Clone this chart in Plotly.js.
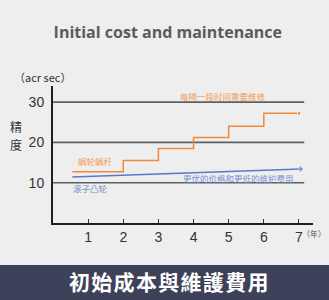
<!DOCTYPE html>
<html><head><meta charset="utf-8">
<script src="https://cdn.plot.ly/plotly-3.0.1.min.js"></script>
<style>html,body{margin:0;padding:0;background:#eeeeee;}#c{width:329px;height:300px;}</style>
</head><body><div id="c"></div>
<script>
// Data
const wormYears = [0.55, 2, 3, 4, 5, 6, 7];
const wormAccuracy = [12.75, 15.5, 18.5, 21.2, 24, 27.25, 27.25];
const rollerYears = [0.55, 7.05];
const rollerAccuracy = [11.4, 13.4];
const xTicks = [1, 2, 3, 4, 5, 6, 7];
const yTicks = [10, 20, 30];
const gridValues = [10, 20, 30];

const L = 53, R = 16, T = 86, B = 77, W = 329, H = 300;
const pw = W - L - R, ph = H - T - B;
const px = x => (x - L) / pw;
const py = y => (H - B - y) / ph;

const orange = '#f08a3a', blue = '#5a78c8';
const orangeText = '#f39a55', blueText = '#7890d2';
const cjk = '"Noto Sans CJK SC", sans-serif';

const traces = [
  {x: rollerYears, y: rollerAccuracy, mode: 'lines+markers', line: {color: blue, width: 1.5},
   marker: {symbol: 'triangle-right', size: rollerYears.map((v, i) => i === rollerYears.length - 1 ? 7 : 0), color: blue},
   hoverinfo: 'skip'},
  {x: wormYears, y: wormAccuracy, mode: 'lines+markers', line: {color: orange, width: 1.5, shape: 'hv'},
   marker: {symbol: 'triangle-right', size: wormYears.map((v, i) => i === wormYears.length - 1 ? 6 : 0), color: orange},
   hoverinfo: 'skip'}
];

const shapes = gridValues.map(v => ({type: 'line', xref: 'x', yref: 'y', x0: 0, x1: 7.15, y0: v, y1: v,
  line: {color: '#5f5f5f', width: 1.6}, layer: 'below'}));
shapes.push({type: 'rect', xref: 'paper', yref: 'paper', x0: px(0), x1: px(329), y0: py(300), y1: py(265),
  fillcolor: '#3d4159', line: {width: 0}, layer: 'below'});

function ann(text, x, y, font, ref, xanchor) {
  return {text: text, x: x, y: y, xref: ref ? 'paper' : 'x', yref: ref ? 'paper' : 'y', showarrow: false,
    xanchor: xanchor || 'center', yanchor: 'middle', font: font};
}
const small = c => ({family: cjk, size: 8.5, color: c});

const annotations = [
  ann('每隔一段时间需要维修', 4.85, 31.4, small(orangeText)),
  ann('蜗轮蜗杆', 1.2, 15.4, small(orangeText)),
  ann('更优的价格和更低的维护费用', 5.29, 11.2, small(blueText)),
  ann('滚子凸轮', 1.08, 8.6, small(blueText)),
  ann('（acr sec）', px(42), py(77), {family: cjk, size: 11, color: '#333'}, true),
  ann('精', px(16), py(126), {family: cjk, size: 12, color: '#333'}, true),
  ann('度', px(16), py(144), {family: cjk, size: 12, color: '#333'}, true),
  ann('（年）', px(328), py(233), {family: cjk, size: 8, color: '#555'}, true, 'right'),
  ann('初\u200a始\u200a成\u200a本\u200a與\u200a維\u200a護\u200a費\u200a用', px(168.5), py(281),
    {family: '"Noto Sans CJK TC", sans-serif', size: 21, color: '#ffffff', weight: 700}, true)
];

const layout = {
  width: W, height: H,
  margin: {l: L, r: R, t: T, b: B, pad: 0},
  paper_bgcolor: '#eeeeee', plot_bgcolor: 'rgba(0,0,0,0)',
  showlegend: false,
  title: {text: 'Initial cost and maintenance', x: 0.51, xanchor: 'center', y: 1 - 32 / 300, yanchor: 'middle', yref: 'container',
    font: {family: '"Open Sans", sans-serif', size: 16, color: '#5b5b5b', weight: 700}},
  xaxis: {range: [0, 7.4], tickvals: xTicks, ticktext: xTicks.map(String), showgrid: false, zeroline: false,
    showline: true, linecolor: '#1e1e1e', linewidth: 2, ticks: 'inside', ticklen: 4, tickwidth: 1, tickcolor: '#333',
    tickfont: {family: '"Liberation Sans", Arial, sans-serif', size: 14, color: '#333'}, fixedrange: true},
  yaxis: {range: [0, 34], tickvals: yTicks, ticktext: yTicks.map(String), showgrid: false, zeroline: false,
    showline: true, linecolor: '#1e1e1e', linewidth: 2, ticks: '', ticklabelstandoff: 4,
    tickfont: {family: '"Liberation Sans", Arial, sans-serif', size: 14, color: '#333'}, fixedrange: true},
  shapes: shapes,
  annotations: annotations
};

Plotly.newPlot('c', traces, layout, {displayModeBar: false, staticPlot: true});
</script>
</body></html>
